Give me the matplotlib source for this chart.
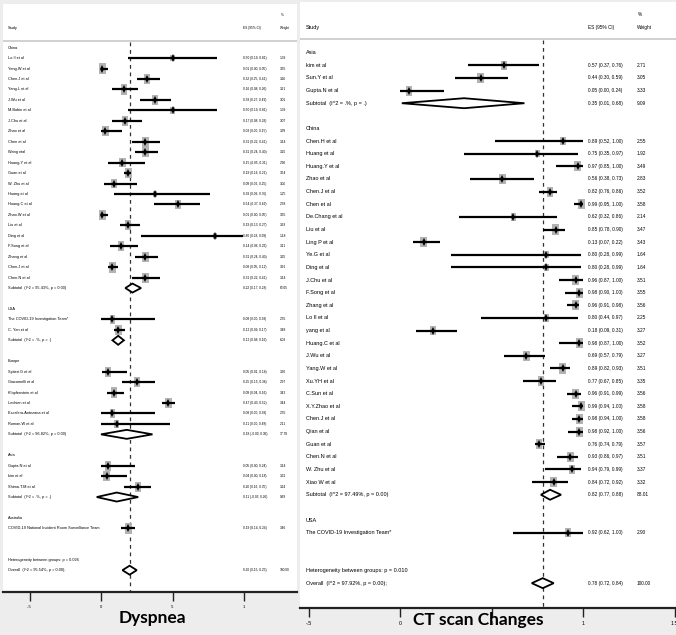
import matplotlib
matplotlib.use("Agg")
import matplotlib.pyplot as plt
import numpy as np
from matplotlib import font_manager
from matplotlib.patches import Rectangle, Polygon

# ---------------- Dyspnea (left panel) ----------------
dys_study = [
    "Lo Il et al", "Yang.W et al", "Chen.J et al", "Yang.L et al", "J.Wu et al",
    "M.Bobin et al", "J.Chu et al", "Zhao et al", "Chen et al", "Wang etal",
    "Huang.Y et al", "Guan et al", "W. Zhu et al", "Huang et al", "Huang.C et al",
    "Zhao.W et al", "Liu et al", "Ding et al", "F.Song et al", "Zhang et al",
    "Chen.J et al", "Chen.N et al",
    "The COVID-19 Investigation Team*", "C. Yan et al",
    "Spiteri.G et al", "Giacomelli et al", "Klopfenstein et al", "Lechien et al",
    "Escalera-Antezana et al", "Roman.W et al",
    "Gupta.N et al", "kim et al", "Shima.T.M et al",
    "COVID-19 National Incident Room Surveillance Team",
]
dys_group = ["China"] * 22 + ["USA"] * 2 + ["Europe"] * 6 + ["Asia"] * 3 + ["Australia"]
dys_es = [0.50, 0.01, 0.32, 0.16, 0.38, 0.50, 0.17, 0.03, 0.31, 0.31, 0.15, 0.19, 0.09, 0.38,
          0.54, 0.01, 0.19, 0.80, 0.14, 0.31, 0.08, 0.31,
          0.08, 0.12,
          0.05, 0.25, 0.09, 0.47, 0.08, 0.11,
          0.05, 0.04, 0.26,
          0.19]
dys_lo = [0.19, 0.00, 0.25, 0.08, 0.27, 0.19, 0.08, 0.00, 0.22, 0.24, 0.05, 0.16, 0.02, 0.09,
          0.37, 0.00, 0.13, 0.28, 0.06, 0.24, 0.05, 0.22,
          0.00, 0.09,
          0.01, 0.15, 0.04, 0.43, 0.00, 0.00,
          0.00, 0.00, 0.16,
          0.14]
dys_hi = [0.81, 0.05, 0.41, 0.26, 0.49, 0.81, 0.29, 0.15, 0.41, 0.40, 0.31, 0.21, 0.25, 0.76,
          0.69, 0.05, 0.27, 0.99, 0.26, 0.40, 0.12, 0.41,
          0.38, 0.17,
          0.18, 0.38, 0.16, 0.52, 0.38, 0.48,
          0.24, 0.18, 0.35,
          0.24]
dys_wt = [1.39, 3.55, 3.26, 3.21, 3.01, 1.39, 3.07, 3.39, 3.14, 3.25, 2.90, 3.54, 3.06, 1.25,
          2.58, 3.55, 3.33, 1.18, 3.11, 3.25, 3.91, 3.14,
          2.55, 3.48,
          3.30, 2.97, 3.42, 3.44, 2.55, 2.11,
          3.14, 3.31, 3.24,
          3.46]
dys_sub_group = ["China", "USA", "Europe", "Asia"]
dys_sub_label = ["Subtotal  (I^2 = 95.43%, p = 0.00)", "Subtotal  (I^2 = .%, p = .)",
                 "Subtotal  (I^2 = 96.82%, p = 0.00)", "Subtotal  (I^2 = .%, p = .)"]
dys_sub_es = [0.22, 0.12, 0.18, 0.11]
dys_sub_lo = [0.17, 0.08, -0.00, -0.03]
dys_sub_hi = [0.28, 0.16, 0.36, 0.26]
dys_sub_wt = [63.05, 6.03, 17.78, 9.69]
dys_het = "Heterogeneity between groups: p = 0.026"
dys_overall_label = "Overall  (I^2 = 95.54%, p = 0.00);"
dys_overall = [0.20, 0.15, 0.25, 100.00]
dys_ticks = [-0.5, 0, 0.5, 1]
dys_ticklabels = ["-.5", "0", ".5", "1"]

# ---------------- CT scan changes (right panel) ----------------
ct_study = [
    "kim et al", "Sun.Y et al", "Gupta.N et al",
    "Chen.H et al", "Huang et al", "Huang.Y et al", "Zhao et al", "Chen.J et al",
    "Chen et al", "De.Chang et al", "Liu et al", "Ling P et al", "Ye.G et al",
    "Ding et al", "J.Chu et al", "F.Song et al", "Zhang et al", "Lo Il et al",
    "yang et al", "Huang.C et al", "J.Wu et al", "Yang.W et al", "Xu.YH et al",
    "C.Sun et al", "X.Y.Zhao et al", "Chen.J et al", "Qian et al", "Guan et al",
    "Chen.N et al", "W. Zhu et al", "Xiao W et al",
    "The COVID-19 Investigation Team*",
]
ct_group = ["Asia"] * 3 + ["China"] * 28 + ["USA"]
ct_es = [0.57, 0.44, 0.05,
         0.89, 0.75, 0.97, 0.56, 0.82, 0.99, 0.62, 0.85, 0.13, 0.80, 0.80, 0.96, 0.98, 0.96,
         0.80, 0.18, 0.98, 0.69, 0.89, 0.77, 0.96, 0.99, 0.98, 0.98, 0.76, 0.93, 0.94, 0.84,
         0.92]
ct_lo = [0.37, 0.30, 0.00,
         0.52, 0.35, 0.85, 0.38, 0.76, 0.95, 0.32, 0.78, 0.07, 0.28, 0.28, 0.87, 0.90, 0.91,
         0.44, 0.09, 0.87, 0.57, 0.82, 0.67, 0.91, 0.94, 0.94, 0.92, 0.74, 0.86, 0.79, 0.72,
         0.62]
ct_hi = [0.76, 0.59, 0.24,
         1.00, 0.97, 1.00, 0.73, 0.86, 1.00, 0.86, 0.90, 0.22, 0.99, 0.99, 1.00, 1.00, 0.98,
         0.97, 0.31, 1.00, 0.79, 0.93, 0.85, 0.99, 1.00, 1.00, 1.00, 0.79, 0.97, 0.99, 0.92,
         1.00]
ct_wt = [2.71, 3.05, 3.33,
         2.55, 1.92, 3.49, 2.83, 3.52, 3.58, 2.14, 3.47, 3.43, 1.64, 1.64, 3.51, 3.55, 3.56,
         2.25, 3.27, 3.52, 3.27, 3.51, 3.35, 3.56, 3.58, 3.58, 3.56, 3.57, 3.51, 3.37, 3.32,
         2.90]
ct_sub_group = ["Asia", "China"]
ct_sub_label = ["Subtotal  (I^2 = .%, p = .)", "Subtotal  (I^2 = 97.49%, p = 0.00)"]
ct_sub_es = [0.35, 0.82]
ct_sub_lo = [0.01, 0.77]
ct_sub_hi = [0.68, 0.88]
ct_sub_wt = [9.09, 88.01]
ct_het = "Heterogeneity between groups: p = 0.010"
ct_overall_label = "Overall  (I^2 = 97.92%, p = 0.00);"
ct_overall = [0.78, 0.72, 0.84, 100.00]
ct_ticks = [-0.5, 0, 0.5, 1, 1.5]
ct_ticklabels = ["-.5", "0", ".5", "1", "1.5"]

W, H = 676, 635

names = {f.name for f in font_manager.fontManager.ttflist}
if "Liberation Sans Narrow" in names:
    FAM, SHRINK = "Liberation Sans Narrow", 1.0
else:
    FAM, SHRINK = "Liberation Sans", 0.82


def es_text(e, l, h):
    return f"{e:.2f} ({l:.2f}, {h:.2f})"


def draw_panel(ax, box, x0, xs, r0, rs, study, group, es, lo, hi, wt,
               sub_group, sub_label, sub_es, sub_lo, sub_hi, sub_wt,
               het, ov_label, overall, ticks, ticklabels, cols, sizes, box_k, dia_h):
    left, right, top, bottom = box
    px2x = lambda px: (px - x0) / xs
    px2r = lambda py: (py - r0) / rs
    ax.set_position([left / W, 1 - bottom / H, (right - left) / W, (bottom - top) / H])
    ax.set_xlim(px2x(left), px2x(right))
    ax.set_ylim(px2r(bottom), px2r(top))
    ax.set_facecolor("white")
    lab_px, es_px, wt_px = cols
    fs_lab, fs_num, fs_tick = [s * SHRINK for s in sizes]

    # header
    ax.text(px2x(lab_px), px2r(28), "Study", fontsize=fs_lab, family=FAM, va="center")
    ax.text(px2x(es_px), px2r(28), "ES (95% CI)", fontsize=fs_num, family=FAM, va="center")
    ax.text(px2x(wt_px + 1), px2r(15), "%", fontsize=fs_num, family=FAM, va="center")
    ax.text(px2x(wt_px), px2r(28), "Weight", fontsize=fs_num, family=FAM, va="center")
    ax.axhline(px2r(top + 37), color="#c8c8c8", lw=1.2)

    # row layout
    rows, sub_rows, head_rows = [], [], []
    r = 0
    grp_order = list(dict.fromkeys(group))
    for g in grp_order:
        head_rows.append((r, g))
        r += 1
        for i, gg in enumerate(group):
            if gg == g:
                rows.append(r)
                r += 1
        if g in sub_group:
            sub_rows.append(r)
            r += 1
        r += 1
    r += 1
    het_row, ov_row = r, r + 1

    for rr, g in head_rows:
        ax.text(px2x(lab_px), rr, g, fontsize=fs_lab, family=FAM, va="center")

    bw, bh = box_k
    for i, rr in enumerate(rows):
        s = np.sqrt(wt[i])
        ax.add_patch(Rectangle((es[i] - bw * s / xs / 2, rr - bh * s / rs / 2),
                               bw * s / xs, bh * s / rs, facecolor="#b3b3b3",
                               edgecolor="none", zorder=2))
    ax.hlines(rows, lo, hi, color="black", lw=1.6, zorder=3)
    ax.plot(es, rows, "d", color="black", ms=3.6, mew=0, zorder=4)
    for i, rr in enumerate(rows):
        ax.text(px2x(lab_px), rr, study[i], fontsize=fs_lab, family=FAM, va="center")
        ax.text(px2x(es_px), rr, es_text(es[i], lo[i], hi[i]), fontsize=fs_num,
                family=FAM, va="center")
        ax.text(px2x(wt_px), rr, f"{wt[i]:.2f}", fontsize=fs_num, family=FAM, va="center")

    dh = dia_h / rs
    all_d = list(zip(sub_rows, sub_label, sub_es, sub_lo, sub_hi, sub_wt))
    all_d.append((ov_row, ov_label) + tuple(overall))
    for rr, lab, e, l, h, w in all_d:
        ax.add_patch(Polygon([(l, rr), (e, rr - dh), (h, rr), (e, rr + dh)], closed=True,
                             facecolor="white", edgecolor="black", lw=1.3, zorder=4))
        ax.text(px2x(lab_px), rr, lab, fontsize=fs_lab, family=FAM, va="center")
        ax.text(px2x(es_px), rr, es_text(e, l, h), fontsize=fs_num, family=FAM, va="center")
        ax.text(px2x(wt_px), rr, f"{w:.2f}", fontsize=fs_num, family=FAM, va="center")
    ax.text(px2x(lab_px), het_row, het, fontsize=fs_lab, family=FAM, va="center")

    ax.vlines(overall[0], px2r(top + 38), px2r(bottom), colors="#333333", lw=0.9,
              linestyles=(0, (3, 3)), zorder=1)

    for sp in ("top", "left", "right"):
        ax.spines[sp].set_visible(False)
    ax.spines["bottom"].set_linewidth(1.6)
    ax.spines["bottom"].set_color("#222222")
    ax.set_yticks([])
    ax.set_xticks(ticks)
    ax.set_xticklabels(ticklabels, family=FAM)
    ax.tick_params(axis="x", direction="out", length=6.5, width=1.0, labelsize=fs_tick,
                   pad=3, color="#222222")


fig = plt.figure(figsize=(W / 100, H / 100), dpi=100, facecolor="#ededed")
ax1 = fig.add_axes([0, 0, 1, 1])
ax2 = fig.add_axes([0, 0, 1, 1])

draw_panel(ax1, (3, 297, 4, 592), 101, 143, 47.7, 10.45,
           dys_study, dys_group, dys_es, dys_lo, dys_hi, dys_wt,
           dys_sub_group, dys_sub_label, dys_sub_es, dys_sub_lo, dys_sub_hi, dys_sub_wt,
           dys_het, dys_overall_label, dys_overall, dys_ticks, dys_ticklabels,
           (8, 243, 280), (3.4, 2.9, 3.6), (3.6, 5.6), 4.5)

draw_panel(ax2, (300, 676, 2, 608), 400, 183, 52.7, 12.63,
           ct_study, ct_group, ct_es, ct_lo, ct_hi, ct_wt,
           ct_sub_group, ct_sub_label, ct_sub_es, ct_sub_lo, ct_sub_hi, ct_sub_wt,
           ct_het, ct_overall_label, ct_overall, ct_ticks, ct_ticklabels,
           (306, 588, 637), (4.8, 4.2, 4.6), (3.6, 5.4), 5.0)

fig.text(152 / W, 1 - 618 / H, "Dyspnea", ha="center", va="center",
         fontsize=12.5, fontweight="bold", family="Lato")
fig.text(478 / W, 1 - 620 / H, "CT scan Changes", ha="center", va="center",
         fontsize=12.5, fontweight="bold", family="Lato")

fig.savefig("out.png", dpi=100, facecolor=fig.get_facecolor())
